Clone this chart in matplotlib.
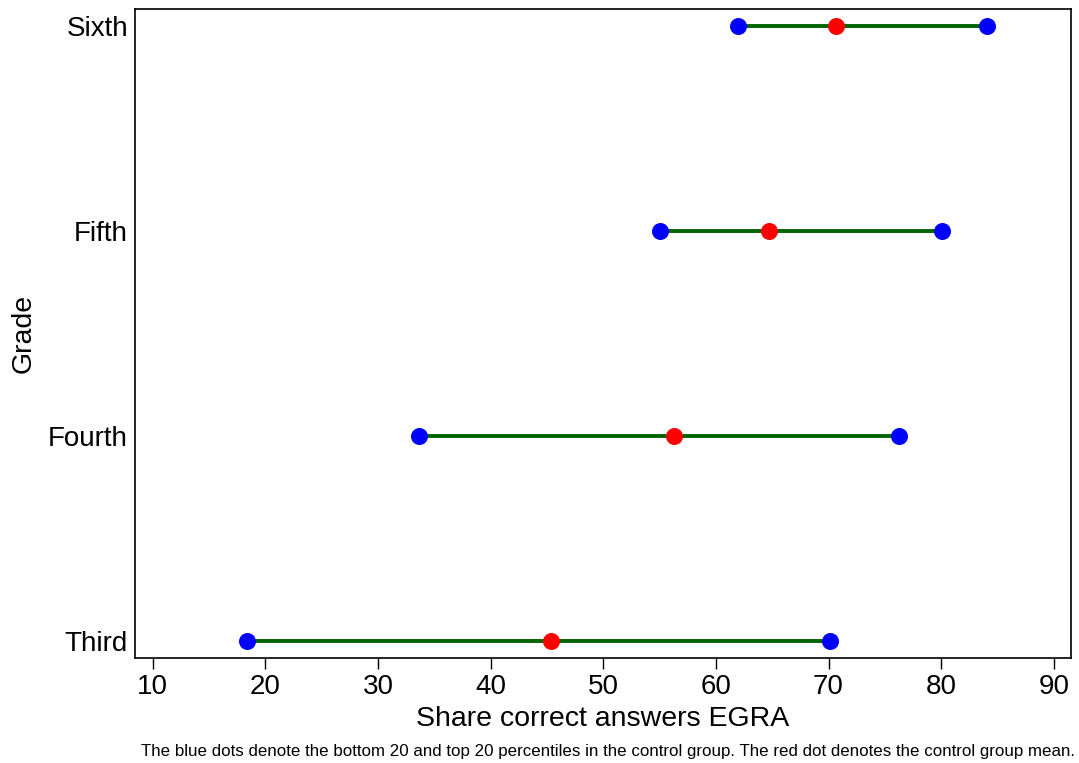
import matplotlib
matplotlib.use("Agg")
import matplotlib.pyplot as plt

grades = ["Third", "Fourth", "Fifth", "Sixth"]
p20 = [18.4, 33.6, 55.0, 62.0]
mean = [45.4, 56.3, 64.7, 70.7]
p80 = [70.1, 76.25, 80.1, 84.1]
xticks = [10, 20, 30, 40, 50, 60, 70, 80, 90]

plt.rcParams['font.family'] = ['Liberation Sans', 'DejaVu Sans']

fig = plt.figure(figsize=(10.79, 7.63), dpi=100)
ax = fig.add_axes([0.1251, 0.138, 0.9923 - 0.1251, 0.9878 - 0.138])

ypos = list(range(1, len(grades) + 1))
ax.hlines(ypos, p20, p80, color='#006400', linewidth=2.8, zorder=2)
ax.scatter(p20, ypos, s=150, color='#0000ff', zorder=3, linewidths=0)
ax.scatter(p80, ypos, s=150, color='#0000ff', zorder=3, linewidths=0)
ax.scatter(mean, ypos, s=150, color='#ff0000', zorder=4, linewidths=0)

ax.set_xlim(8.43, 91.5)
ax.set_ylim(0.917, 4.0815)
ax.set_xticks(xticks)
ax.set_xticklabels([str(t) for t in xticks], fontsize=20)
ax.set_yticks(ypos)
ax.set_yticklabels(grades, fontsize=20)
ax.tick_params(axis='x', length=8, width=1, pad=4)
ax.tick_params(axis='y', length=0, pad=5)
for sp in ax.spines.values():
    sp.set_linewidth(1.2)

ax.set_xlabel("Share correct answers EGRA", fontsize=20.5, labelpad=4)
ax.set_ylabel("Grade", fontsize=20.5, labelpad=8)

fig.text(0.9965, 0.005, "The blue dots denote the bottom 20 and top 20 percentiles in the control group. The red dot denotes the control group mean.",
         ha='right', va='bottom', fontsize=12.2)

fig.savefig("out.png", dpi=100)
